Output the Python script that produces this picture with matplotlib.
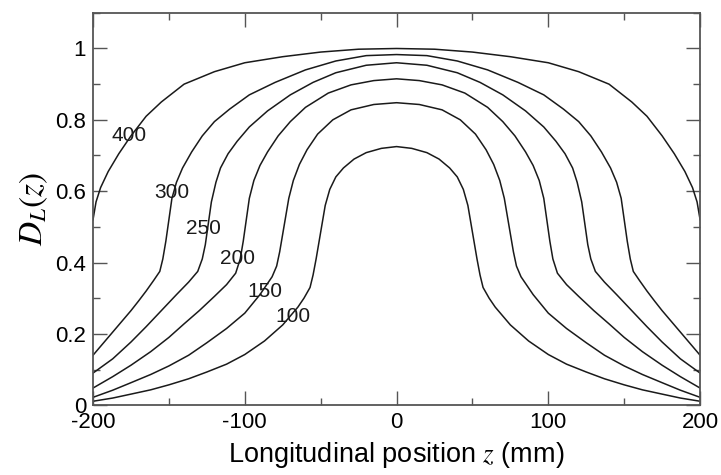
import numpy as np
import matplotlib
matplotlib.use("Agg")
import matplotlib.pyplot as plt
from matplotlib.ticker import MultipleLocator

plt.rcParams["font.family"] = ["Liberation Sans", "DejaVu Sans"]
plt.rcParams["mathtext.fontset"] = "stix"
plt.rcParams["axes.unicode_minus"] = False

# Half profiles (z <= 0) of D_L(z) for each length; profiles are symmetric in z
lengths = [400, 300, 250, 200, 150, 100]

z_400 = [0, -25, -50, -75, -100, -120, -140, -155, -165, -175, -183, -190, -195, -198, -200]
d_400 = [1.0, 0.998, 0.99, 0.977, 0.96, 0.935, 0.9, 0.85, 0.81, 0.755, 0.705, 0.655, 0.61, 0.57, 0.52]

z_300 = [0, -20, -40, -60, -80, -97, -110, -120, -128, -135, -141, -145, -148, -150, -152, -154, -156,
         -160, -165, -170, -175, -187, -200]
d_300 = [0.983, 0.98, 0.965, 0.94, 0.905, 0.87, 0.83, 0.795, 0.755, 0.71, 0.665, 0.625, 0.58, 0.52, 0.46, 0.41, 0.375,
         0.35, 0.32, 0.292, 0.265, 0.205, 0.14]

z_250 = [0, -20, -40, -55, -70, -85, -97, -105, -111, -116, -119, -122, -124, -126, -128, -131,
         -137, -145, -155, -165, -175, -187, -200]
d_250 = [0.96, 0.953, 0.932, 0.905, 0.87, 0.825, 0.78, 0.74, 0.705, 0.665, 0.625, 0.57, 0.51, 0.45, 0.41, 0.375,
         0.345, 0.31, 0.265, 0.22, 0.177, 0.13, 0.09]

z_200 = [0, -15, -30, -45, -60, -70, -78, -85, -90, -94, -97, -99, -101, -103, -106,
         -112, -120, -130, -140, -150, -162, -175, -187, -200]
d_200 = [0.915, 0.91, 0.898, 0.875, 0.835, 0.795, 0.755, 0.71, 0.672, 0.63, 0.58, 0.52, 0.46, 0.41, 0.37,
         0.338, 0.305, 0.265, 0.228, 0.19, 0.15, 0.112, 0.08, 0.048]

z_150 = [0, -15, -30, -42, -52, -59, -64, -68, -71, -73, -75, -77, -79, -82,
         -90, -100, -112, -125, -137, -150, -162, -175, -187, -200]
d_150 = [0.848, 0.843, 0.828, 0.8, 0.76, 0.716, 0.675, 0.63, 0.58, 0.53, 0.48, 0.43, 0.39, 0.36,
         0.31, 0.258, 0.215, 0.175, 0.14, 0.11, 0.086, 0.063, 0.042, 0.022]

z_100 = [0, -10, -20, -28, -35, -40, -44, -47, -49, -51, -53, -55, -57,
         -61, -65, -75, -87, -100, -112, -125, -137, -150, -162, -175, -187, -200]
d_100 = [0.725, 0.72, 0.708, 0.69, 0.665, 0.64, 0.605, 0.56, 0.51, 0.46, 0.41, 0.365, 0.33,
         0.3, 0.275, 0.225, 0.18, 0.142, 0.115, 0.093, 0.074, 0.057, 0.043, 0.031, 0.02, 0.011]

profiles = [(z_400, d_400), (z_300, d_300), (z_250, d_250),
            (z_200, d_200), (z_150, d_150), (z_100, d_100)]

# label anchor points (z, D) next to each curve
label_z = [-176, -148, -127, -105, -87, -68]
label_d = [0.755, 0.595, 0.495, 0.41, 0.32, 0.248]

fig = plt.figure(figsize=(7.21, 4.75), dpi=100)
ax = fig.add_axes([0.129, 0.147, 0.842, 0.826])

for (zs, ds) in profiles:
    zs = np.array(zs, dtype=float)
    ds = np.array(ds, dtype=float)
    z_full = np.concatenate([zs[::-1], -zs[1:]])
    d_full = np.concatenate([ds[::-1], ds[1:]])
    ax.plot(z_full, d_full, color="#1a1a1a", lw=1.1, solid_joinstyle="round")

for L, lz, ld in zip(lengths, label_z, label_d):
    ax.text(lz, ld, str(L), fontsize=15, ha="center", va="center", color="#1a1a1a")

ax.set_xlim(-200, 200)
ax.set_ylim(0, 1.1)
ax.xaxis.set_major_locator(MultipleLocator(100))
ax.xaxis.set_minor_locator(MultipleLocator(50))
ax.yaxis.set_major_locator(MultipleLocator(0.2))
ax.yaxis.set_minor_locator(MultipleLocator(0.1))
ax.set_yticks([0, 0.2, 0.4, 0.6, 0.8, 1.0])
ax.set_yticklabels(["0", "0.2", "0.4", "0.6", "0.8", "1"])

ax.tick_params(which="both", direction="in", top=True, right=True,
               labelsize=16, color="#555555", width=1.0)
ax.tick_params(which="major", length=10, pad=5)
ax.tick_params(which="minor", length=5)
for sp in ax.spines.values():
    sp.set_color("#555555")
    sp.set_linewidth(1.3)

ax.set_xlabel("Longitudinal position $z$ (mm)", fontsize=19.5, labelpad=5)
ax.set_ylabel("$D_L(z)$", fontsize=24, labelpad=4)

fig.savefig("out.png", dpi=100)
